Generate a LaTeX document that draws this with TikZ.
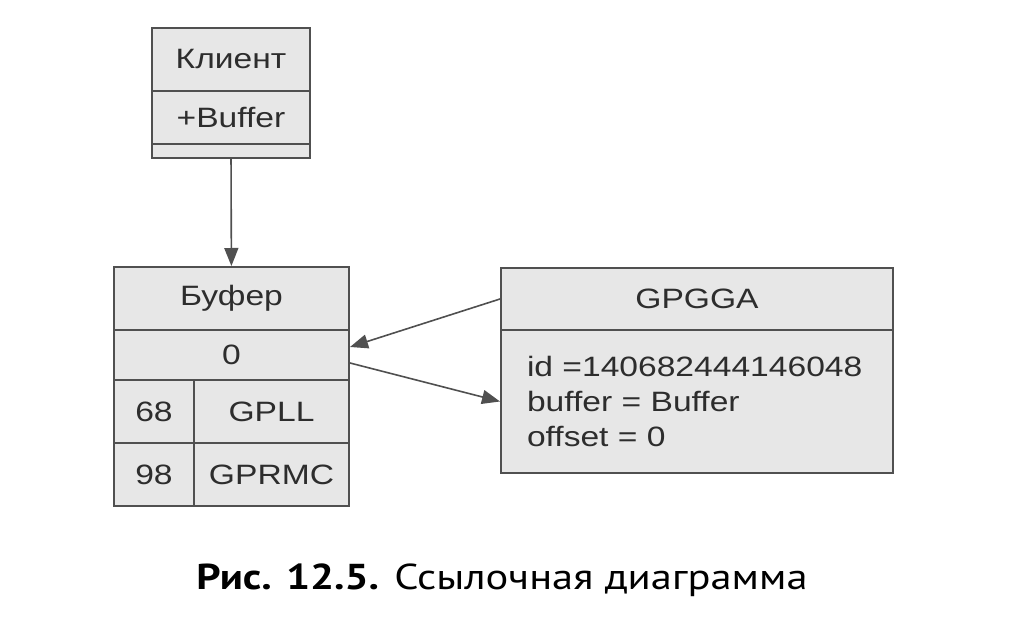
\documentclass[tikz,border=0pt]{standalone}
\usepackage{fontspec}
\setmainfont{Liberation Sans}[FakeStretch=1.2]
\newfontfamily\capfont{PT Sans}[FakeStretch=1.18]
\usepackage{tikz}
\usetikzlibrary{arrows.meta}
\definecolor{boxfill}{RGB}{231,231,231}
\definecolor{boxline}{RGB}{80,80,80}
\definecolor{boxtext}{RGB}{45,45,45}

\begin{document}
\begin{tikzpicture}[x=0.5pt,y=-0.5pt,
    cell/.style={draw=boxline,fill=boxfill,line width=1pt,inner sep=0pt,text=boxtext,
                 font=\fontsize{14}{17}\selectfont},
    link/.style={draw=boxline,line width=0.8pt,-{Triangle[length=9pt,width=7pt]}}]
   \path[use as bounding box] (0,0) rectangle (1027,625);
   % Klient
   \draw (231,59.5) node[cell,minimum width=79pt,minimum height=31.5pt] (klient) {Клиент};
   \draw (231,117.5) node[cell,minimum width=79pt,minimum height=26.5pt] (klientattr) {+Buffer};
   \draw (231,151) node[cell,minimum width=79pt,minimum height=7pt] (klientops) {};
   % Bufer
   \draw (231.5,298.5) node[cell,minimum width=117.5pt,minimum height=31.5pt] (bufer) {Буфер};
   \draw (231.5,355) node[cell,minimum width=117.5pt,minimum height=25pt] (buferoff) {0};
   \draw (154,411.5) node[cell,minimum width=40pt,minimum height=31.5pt] (off68) {68};
   \draw (271.5,411.5) node[cell,minimum width=77.5pt,minimum height=31.5pt] (gpll) {GPLL};
   \draw (154,474.5) node[cell,minimum width=40pt,minimum height=31.5pt] (off98) {98};
   \draw (271.5,474.5) node[cell,minimum width=77.5pt,minimum height=31.5pt] (gprmc) {GPRMC};
   % GPGGA
   \draw (697,299) node[cell,minimum width=196pt,minimum height=31pt] (gpgga) {GPGGA};
   \draw (697,401.5) node[cell,minimum width=196pt,minimum height=71.5pt,
        text width=170pt,inner xsep=13pt,align=left,
        font=\fontsize{14}{17.5}\selectfont] (gpggabody)
        {id =140682444146048\\buffer = Buffer\\offset = 0};
       \draw[link] (klientops) -- (bufer);
       \draw[link] (gpgga.west) -- ([yshift=4pt]buferoff.east);
       \draw[link] ([yshift=-4pt]buferoff.east) -- (gpggabody.west);
   % caption
   \draw (502,580) node[font=\capfont\fontsize{18}{22}\selectfont] (caption)
        {\textbf{Рис. 12.5.} Ссылочная диаграмма};
\end{tikzpicture}
\end{document}
